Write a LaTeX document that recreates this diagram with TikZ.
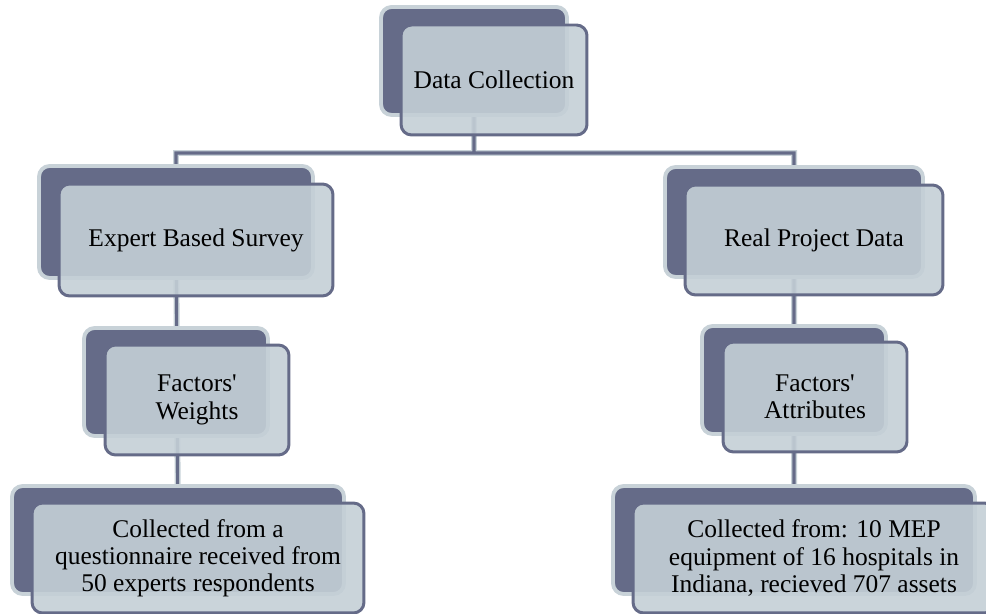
\documentclass[tikz,border=0pt]{standalone}
\usepackage{fontspec}
\setmainfont{Liberation Serif}
\usetikzlibrary{backgrounds}
\definecolor{boxdark}{RGB}{101,107,136}
\definecolor{boxedge}{RGB}{200,210,216}
\definecolor{boxface}{RGB}{196,207,214}

\begin{document}
\begin{tikzpicture}[x=0.02cm,y=-0.02cm,
                    every text node part/.style={align=center},
                    font=\fontsize{14.5}{15.5}\selectfont]
  \tikzstyle{back}=[draw=boxedge,fill=boxdark,line width=2.2pt,rounded corners=6pt]
  \tikzstyle{front}=[draw=boxdark,fill=boxface,fill opacity=0.9,text opacity=1,
                     line width=1.7pt,rounded corners=6pt]
  \tikzstyle{link}=[draw=boxdark,line width=1.8pt,preaction={draw=boxedge,line width=3.4pt}]
  \useasboundingbox (0,0) rectangle (986,614);

  % back boxes
  \node[back,minimum width=3.72cm,minimum height=2.16cm] (DCb)  at (474,61)  {};
  \node[back,minimum width=5.48cm,minimum height=2.24cm] (EBSb) at (176,222) {};
  \node[back,minimum width=5.16cm,minimum height=2.2cm]  (RPDb) at (794,222) {};
  \node[back,minimum width=3.68cm,minimum height=2.16cm] (FWb)  at (176,382) {};
  \node[back,minimum width=3.68cm,minimum height=2.16cm] (FAb)  at (794,380) {};
  \node[back,minimum width=6.64cm,minimum height=2.16cm] (CLb)  at (178,540) {};
  \node[back,minimum width=7.24cm,minimum height=2.16cm] (CRb)  at (794,540) {};

  % front boxes
  \node[front,minimum width=3.72cm,minimum height=2.2cm] (DC)
       at ([shift={(20,19)}]DCb) {Data Collection};
  \node[front,minimum width=5.48cm,minimum height=2.24cm] (EBS)
       at ([shift={(20,18)}]EBSb) {Expert Based Survey};
  \node[front,minimum width=5.16cm,minimum height=2.2cm] (RPD)
       at ([shift={(20,18)}]RPDb) {Real Project Data};
  \node[front,minimum width=3.68cm,minimum height=2.2cm] (FW)
       at ([shift={(21,18)}]FWb) {Factors\textquotesingle\\Weights};
  \node[front,minimum width=3.68cm,minimum height=2.2cm] (FA)
       at ([shift={(21,17)}]FAb) {Factors\textquotesingle\\Attributes};
  \node[front,minimum width=6.64cm,minimum height=2.2cm] (CL)
       at ([shift={(20,18)}]CLb) {Collected from a\\questionnaire received from\\50 experts respondents};
  \node[front,minimum width=7.24cm,minimum height=2.2cm] (CR)
       at ([shift={(20,18)}]CRb) {Collected from: 10 MEP\\equipment of 16 hospitals in\\Indiana, recieved 707 assets};

  \coordinate (bus) at (474,153);
  \begin{scope}[on background layer]
    \draw[link] (EBSb.center) |- (bus) -| (RPDb.center)
                (DCb.center) -- (bus)
                (EBSb.center) -- (CLb.center)
                (RPDb.center) -- (CRb.center);
  \end{scope}
\end{tikzpicture}
\end{document}
